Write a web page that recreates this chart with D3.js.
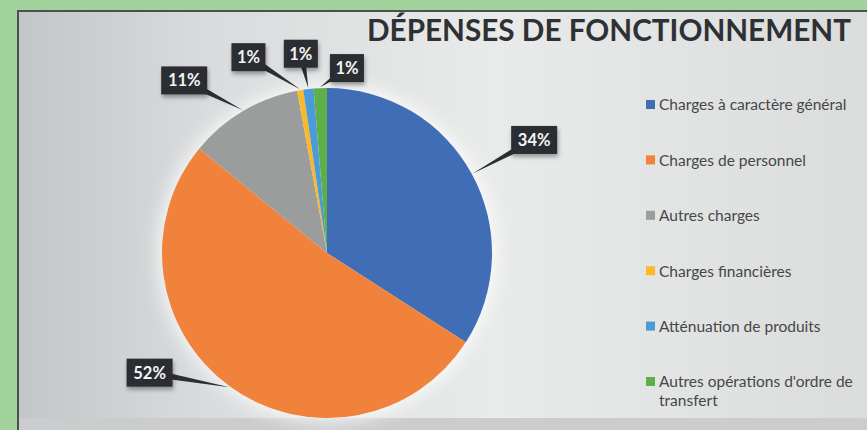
<!DOCTYPE html>
<html>
<head>
<meta charset="utf-8">
<script src="https://cdn.jsdelivr.net/npm/d3@7"></script>
<style>
  html, body { margin: 0; padding: 0; background: #a2d39c; }
  svg { display: block; }
</style>
</head>
<body>
<div class="depenses-chart"></div>
<script>
// data
const categories = [
    "Charges à caractère général",
    "Charges de personnel",
    "Autres charges",
    "Charges financières",
    "Atténuation de produits",
    "Autres opérations d'ordre de transfert"
];
const shares = [34.1, 51.8, 11.2, 0.6, 1.0, 1.3];
const sliceColors = ["#3f6db6", "#f0823b", "#9b9d9d", "#fbb829", "#4b9bd9", "#5eae4a"];
const title = "DÉPENSES DE FONCTIONNEMENT";

const width = 867;
const height = 430;

const svg = d3.select(".depenses-chart").append("svg")
    .attr("width", width)
    .attr("height", height);

const defs = svg.append("defs");

const bg = defs.append("linearGradient").attr("id", "bg");
bg.append("stop").attr("offset", "0%").attr("stop-color", "#c3c6c8");
bg.append("stop").attr("offset", "22%").attr("stop-color", "#d9dbdc");
bg.append("stop").attr("offset", "55%").attr("stop-color", "#e9eaea");
bg.append("stop").attr("offset", "100%").attr("stop-color", "#dadbdb");

const glow = defs.append("filter").attr("id", "glow")
    .attr("x", "-20%").attr("y", "-20%").attr("width", "140%").attr("height", "140%");
glow.append("feGaussianBlur").attr("stdDeviation", 9);

const shadow = defs.append("filter").attr("id", "shadow")
    .attr("x", "-30%").attr("y", "-30%").attr("width", "160%").attr("height", "170%");
shadow.append("feDropShadow")
    .attr("dx", 1).attr("dy", 3).attr("stdDeviation", 2)
    .attr("flood-color", "#000").attr("flood-opacity", 0.35);

// panel
svg.append("rect")
    .attr("x", 18).attr("y", 11)
    .attr("width", width).attr("height", height)
    .attr("fill", "url(#bg)")
    .attr("stroke", "#4b504d")
    .attr("stroke-width", 2);

svg.append("rect")
    .attr("x", 19).attr("y", 418)
    .attr("width", width).attr("height", 12)
    .attr("fill", "#cbcccd");

// title
svg.append("text")
    .attr("x", 367)
    .attr("y", 41)
    .attr("textLength", 484)
    .attr("lengthAdjust", "spacingAndGlyphs")
    .attr("font-family", "Lato, 'Open Sans', sans-serif")
    .attr("font-weight", "bold")
    .attr("font-size", 30)
    .attr("fill", "#2e3133")
    .text(title);

// pie
const cx = 327, cy = 253, radius = 165;

const pie = d3.pie().sort(null).value(d => d);
const arcs = pie(shares);

const arc = d3.arc().innerRadius(0).outerRadius(radius);
const tipArc = d3.arc().innerRadius(radius + 1).outerRadius(radius + 1);

const g = svg.append("g").attr("transform", `translate(${cx},${cy})`);

g.append("circle")
    .attr("r", radius + 4)
    .attr("fill", "#ffffff")
    .attr("opacity", 0.8)
    .attr("filter", "url(#glow)");

g.selectAll("path.slice")
    .data(arcs)
    .join("path")
    .attr("class", "slice")
    .attr("fill", (d, i) => sliceColors[i])
    .attr("d", arc);

// callout placement (Excel best fit), angle nudge in degrees and distance from centre
const callout = [
    {turn: 0, dist: 236},
    {turn: 20, dist: 214},
    {turn: -9, dist: 224},
    {turn: -12.5, dist: 211},
    {turn: -1, dist: 201},
    {turn: 8.5, dist: 186}
];

const labels = g.selectAll("g.callout")
    .data(arcs)
    .join("g")
    .attr("class", "callout");

labels.each(function(d, i) {
    const sel = d3.select(this);
    const mid = (d.startAngle + d.endAngle) / 2;
    const a = mid + callout[i].turn * Math.PI / 180;
    const bx = Math.sin(a) * callout[i].dist;
    const by = -Math.cos(a) * callout[i].dist;
    const [tx, ty] = tipArc.centroid(d);

    const txt = Math.round(d.data) + "%";
    const boxW = txt.length === 2 ? 34 : 46;
    const boxH = 28;

    // pointer wedge
    const dx = tx - bx, dy = ty - by;
    const len = Math.hypot(dx, dy);
    const nx = -dy / len * 4, ny = dx / len * 4;
    sel.append("path")
        .attr("d", `M${bx + nx},${by + ny}L${tx},${ty}L${bx - nx},${by - ny}Z`)
        .attr("fill", "#2b2e33");

    sel.append("rect")
        .attr("x", bx - boxW / 2)
        .attr("y", by - boxH / 2)
        .attr("width", boxW)
        .attr("height", boxH)
        .attr("fill", "#2b2e33")
        .attr("filter", "url(#shadow)");

    sel.append("text")
        .attr("x", bx)
        .attr("y", by)
        .attr("dy", "0.36em")
        .attr("text-anchor", "middle")
        .attr("font-family", "Lato, 'Open Sans', sans-serif")
        .attr("font-weight", "bold")
        .attr("font-size", 16.5)
        .attr("fill", "#f4f4f4")
        .text(txt);
});

// legend
const legendY = d3.scalePoint()
    .domain(categories)
    .range([105, 382]);

const legend = svg.append("g")
    .selectAll("g")
    .data(categories)
    .join("g")
    .attr("transform", d => `translate(646,${legendY(d)})`);

legend.append("rect")
    .attr("x", 0)
    .attr("y", -5)
    .attr("width", 9)
    .attr("height", 9)
    .attr("fill", (d, i) => sliceColors[i]);

legend.append("text")
    .attr("x", 13)
    .attr("font-family", "Lato, 'Open Sans', sans-serif")
    .attr("font-size", 15.5)
    .attr("fill", "#454849")
    .each(function(d) {
        const words = d === categories[5]
            ? ["Autres opérations d'ordre de", "transfert"]
            : [d];
        d3.select(this).selectAll("tspan")
            .data(words)
            .join("tspan")
            .attr("x", 13)
            .attr("dy", (w, j) => j === 0 ? "0.35em" : "19")
            .text(w => w);
    });
</script>
</body>
</html>
